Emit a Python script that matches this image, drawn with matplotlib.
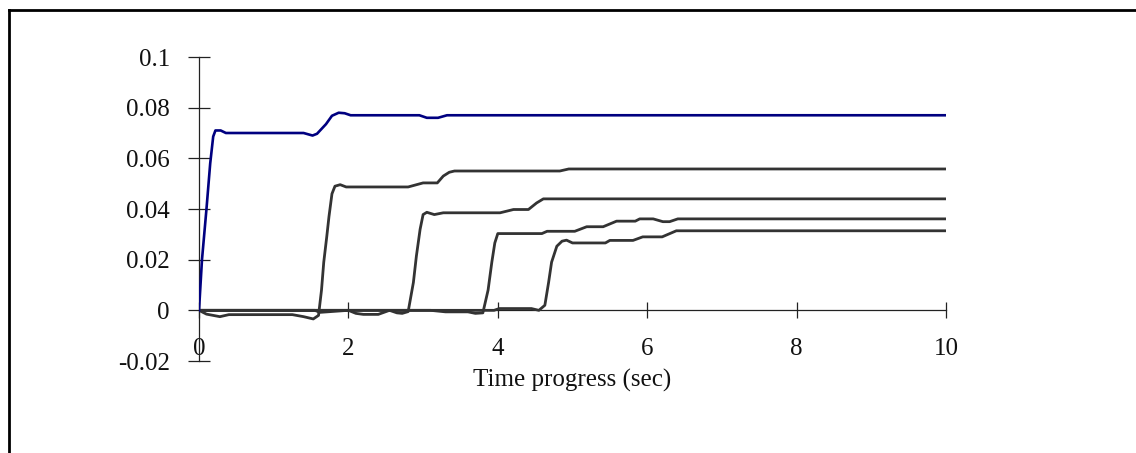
import matplotlib
matplotlib.use("Agg")
import matplotlib.pyplot as plt
from matplotlib.lines import Line2D

# ---- data ----
t_blue = [0, 0.04, 0.10, 0.15, 0.19, 0.22, 0.29, 0.36, 1.40, 1.52, 1.58, 1.70, 1.78, 1.87, 1.95, 2.03, 2.95, 3.05, 3.20, 3.32, 10]
y_blue = [0, 0.020, 0.040, 0.058, 0.0686, 0.071, 0.071, 0.070, 0.070, 0.069, 0.0697, 0.0735, 0.0768, 0.078, 0.0778, 0.077, 0.077, 0.076, 0.076, 0.077, 0.077]

t_a = [0, 0.10, 0.28, 0.40, 1.25, 1.40, 1.53, 1.60, 1.64, 1.67, 1.71, 1.74, 1.78, 1.82, 1.89, 1.97, 2.80, 2.90, 3.00, 3.19, 3.27, 3.35, 3.42, 4.83, 4.95, 10]
y_a = [0, -0.0015, -0.0025, -0.0017, -0.0017, -0.0025, -0.0034, -0.002, 0.008, 0.019, 0.029, 0.037, 0.046, 0.049, 0.0496, 0.0487, 0.0487, 0.0495, 0.0503, 0.0503, 0.053, 0.0545, 0.055, 0.055, 0.0558, 0.0558]

t_b = [0, 1.55, 1.62, 2.00, 2.10, 2.20, 2.40, 2.55, 2.65, 2.72, 2.80, 2.87, 2.91, 2.96, 3.00, 3.05, 3.15, 3.27, 4.03, 4.21, 4.41, 4.52, 4.61, 10]
y_b = [0, 0, -0.0008, 0, -0.0012, -0.0016, -0.0016, 0, -0.0010, -0.0012, -0.0005, 0.011, 0.0214, 0.032, 0.0378, 0.0387, 0.0378, 0.0385, 0.0385, 0.0398, 0.0398, 0.0424, 0.044, 0.044]

t_c = [0, 3.10, 3.30, 3.60, 3.70, 3.80, 3.87, 3.92, 3.96, 4.00, 4.59, 4.66, 5.03, 5.19, 5.41, 5.59, 5.84, 5.90, 6.08, 6.21, 6.30, 6.41, 10]
y_c = [0, 0, -0.0006, -0.0006, -0.0012, -0.0010, 0.008, 0.019, 0.0266, 0.0303, 0.0303, 0.0312, 0.0312, 0.033, 0.033, 0.0352, 0.0352, 0.0361, 0.0361, 0.035, 0.035, 0.0361, 0.0361]

t_d = [0, 3.95, 4.02, 4.45, 4.55, 4.63, 4.68, 4.72, 4.79, 4.86, 4.92, 5.00, 5.44, 5.50, 5.81, 5.94, 6.20, 6.39, 10]
y_d = [0, 0, 0.0007, 0.0007, 0, 0.002, 0.011, 0.019, 0.0253, 0.0273, 0.0277, 0.0266, 0.0266, 0.0276, 0.0276, 0.029, 0.029, 0.0314, 0.0314]

x_ticks = [0, 2, 4, 6, 8, 10]
x_ticklabels = ["0", "2", "4", "6", "8", "10"]
y_ticks = [-0.02, 0, 0.02, 0.04, 0.06, 0.08, 0.1]
y_ticklabels = ["-0.02", "0", "0.02", "0.04", "0.06", "0.08", "0.1"]
x_label = "Time progress (sec)"

# ---- figure ----
W, H = 1136, 453
fig = plt.figure(figsize=(W / 100, H / 100), dpi=100)
fig.patch.set_facecolor("white")
plt.rcParams["font.family"] = ["Liberation Serif", "DejaVu Serif"]

ax = fig.add_axes([199 / W, (H - 361) / H, 747 / W, 304 / H])
ax.set_facecolor("none")

gray = "#333333"
for tt, yy in [(t_a, y_a), (t_b, y_b), (t_c, y_c), (t_d, y_d)]:
    ax.plot(tt, yy, color=gray, lw=2.0, solid_joinstyle="round", solid_capstyle="round", zorder=3)
ax.plot(t_blue, y_blue, color="#000080", lw=1.9, solid_joinstyle="round", zorder=4)

ax.set_xlim(0, 10)
ax.set_ylim(-0.02, 0.1)

for s in ["top", "right"]:
    ax.spines[s].set_visible(False)
ax.spines["bottom"].set_position(("data", 0))
ax.spines["left"].set_position(("data", 0))
for s in ["bottom", "left"]:
    ax.spines[s].set_color("#222222")
    ax.spines[s].set_linewidth(0.9)
    ax.spines[s].set_zorder(2)

ax.set_xticks(x_ticks)
ax.set_xticklabels(x_ticklabels)
ax.set_yticks(y_ticks)
ax.set_yticklabels(y_ticklabels)
ax.tick_params(axis="x", direction="inout", length=12, width=0.9, color="#222222",
               pad=14, labelsize=18, labelcolor="#111111")
ax.tick_params(axis="y", direction="inout", length=16, width=0.9, color="#222222",
               pad=13, labelsize=18, labelcolor="#111111")

fig.text(572 / W, 1 - 380 / H, x_label, ha="center", va="center", fontsize=18, color="#111111")

# outer frame (top and left edges visible)
fig.add_artist(Line2D([8.5 / W, 8.5 / W], [0, 1 - 9.5 / H], color="black", lw=2.0, transform=fig.transFigure))
fig.add_artist(Line2D([8.5 / W, 1], [1 - 9.5 / H, 1 - 9.5 / H], color="black", lw=2.0, transform=fig.transFigure))

fig.savefig("out.png", dpi=100, facecolor="white")
